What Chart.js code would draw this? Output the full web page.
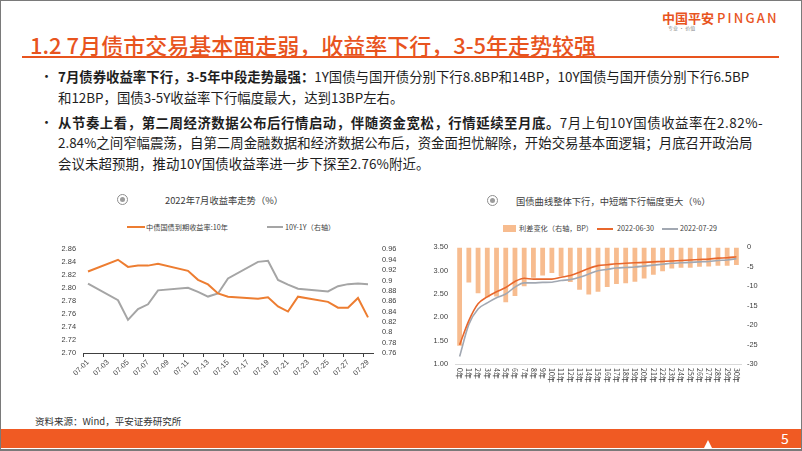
<!DOCTYPE html>
<html>
<head>
<meta charset="utf-8">
<script src="https://cdn.jsdelivr.net/npm/chart.js@4.4.1/dist/chart.umd.min.js"></script>
<style>
  body { margin: 0; background: #fff; }
  #slide { position: relative; width: 802px; height: 451px; overflow: hidden; background: #fff;
           font-family: "Noto Sans CJK SC", "Noto Sans", sans-serif; color: #222; }
  .abs { position: absolute; white-space: nowrap; }
  .frame { position: absolute; left: 0; top: 0; right: 0; bottom: 0; border: 1px solid #7a7a7a; border-bottom-width: 2px; pointer-events: none; }
  .ln { position: absolute; left: 58px; font-size: 13.4px; line-height: 18px; white-space: nowrap; color: #1e1e1e; }
  .dot { position: absolute; left: 40px; font-size: 13px; line-height: 18px; }
  .ttl { font-size: 9.3px; color: #3c3c3c; line-height: 12px; }
  .ring { position: absolute; width: 9px; height: 9px; border: 1.5px solid #8e8e8e; border-radius: 50%; }
  .ring::after { content: ""; position: absolute; left: 2px; top: 2px; width: 5px; height: 5px; border-radius: 50%; background: #9c9c9c; }
  .lg { font-size: 7.2px; color: #404040; line-height: 10px; }
  canvas { position: absolute; }
</style>
</head>
<body>
<div id="slide">
  <!-- ヘッダー -->
  <div class="abs" style="left:30px;top:32px;font-size:22px;line-height:25px;color:#E8541E;font-weight:500;">1.2 7月债市交易基本面走弱，收益率下行，3-5年走势较强</div>
  <div class="abs" style="left:22px;top:56px;width:757px;height:2px;background:#E8541E;"></div>
  <div class="abs" style="left:662px;top:10px;font-size:13px;line-height:16px;color:#E8541E;font-weight:700;">中国平安 <span style="font-weight:500;letter-spacing:2.2px;">PINGAN</span></div>
  <div class="abs" style="left:668px;top:25px;font-size:5px;line-height:6px;color:#888;">专业 · 价值</div>

  <!-- 本文 -->
  <div class="dot" style="top:67px;">•</div>
  <div class="ln" style="top:67px;"><b>7月债券收益率下行，3-5年中段走势最强：</b>1Y国债与国开债分别下行8.8BP和14BP，10Y国债与国开债分别下行6.5BP</div>
  <div class="ln" style="top:88px;">和12BP，国债3-5Y收益率下行幅度最大，达到13BP左右。</div>
  <div class="dot" style="top:113px;">•</div>
  <div class="ln" style="top:113px;letter-spacing:0.55px;"><b>从节奏上看，第二周经济数据公布后行情启动，伴随资金宽松，行情延续至月底。</b>7月上旬10Y国债收益率在2.82%-</div>
  <div class="ln" style="top:133px;">2.84%之间窄幅震荡，自第二周金融数据和经济数据公布后，资金面担忧解除，开始交易基本面逻辑；月底召开政治局</div>
  <div class="ln" style="top:154px;letter-spacing:0.1px;">会议未超预期，推动10Y国债收益率进一步下探至2.76%附近。</div>

  <!-- 左チャート タイトル・凡例 -->
  <div class="ring" style="left:117px;top:194px;"></div>
  <div class="abs ttl" style="left:165px;top:194px;">2022年7月收益率走势（%）</div>
  <div class="abs" style="left:127px;top:226px;width:18px;height:2px;background:#ED7D31;"></div>
  <div class="abs lg" style="left:146px;top:222px;">中债国债到期收益率:10年</div>
  <div class="abs" style="left:267px;top:226px;width:16px;height:2px;background:#A5A5A5;"></div>
  <div class="abs lg" style="left:285px;top:222px;">10Y-1Y（右轴）</div>

  <!-- 右チャート タイトル・凡例 -->
  <div class="ring" style="left:487px;top:195px;"></div>
  <div class="abs ttl" style="left:516px;top:195px;">国债曲线整体下行，中短端下行幅度更大（%）</div>
  <div class="abs" style="left:503px;top:225px;width:13px;height:7px;background:#F7BC8F;"></div>
  <div class="abs lg" style="left:519px;top:223px;">利差变化（右轴，BP）</div>
  <div class="abs" style="left:597px;top:228px;width:16px;height:1.5px;background:#E8672C;"></div>
  <div class="abs lg" style="left:617px;top:223px;">2022-06-30</div>
  <div class="abs" style="left:662px;top:228px;width:16px;height:1.5px;background:#A2A8B2;"></div>
  <div class="abs lg" style="left:680px;top:223px;">2022-07-29</div>

  <canvas id="leftChart" width="375" height="150" style="left:40px;top:236px;"></canvas>
  <canvas id="rightChart" width="388" height="152" style="left:412px;top:236px;"></canvas>

  <!-- フッター -->
  <div class="abs" style="left:35px;top:415px;font-size:9.5px;line-height:13px;color:#333;">资料来源：Wind，平安证券研究所</div>
  <div class="abs" style="left:0;top:429px;width:802px;height:19px;background:#F05A23;"></div>
  <div class="abs" style="left:704px;top:440px;width:0;height:0;border-left:4px solid transparent;border-right:4px solid transparent;border-bottom:8px solid #fff;"></div>
  <div class="abs" style="left:781px;top:429px;font-size:14px;line-height:19px;color:#fff;">5</div>
  <div class="frame"></div>
</div>

<script>
// -----------------------------------------------------------------
//  左：2022年7月 10Y 収益率 / 10Y-1Y（右軸）
// -----------------------------------------------------------------
const dayLabels = [
  "07-01", "07-02", "07-03", "07-04", "07-05", "07-06", "07-07", "07-08", "07-09", "07-10",
  "07-11", "07-12", "07-13", "07-14", "07-15", "07-16", "07-17", "07-18", "07-19", "07-20",
  "07-21", "07-22", "07-23", "07-24", "07-25", "07-26", "07-27", "07-28", "07-29"
];
// 週末は null（線はそのまま繋ぐ）
const yield10y = [
  2.826, null, null, 2.844, 2.833, 2.835, 2.835, 2.838, null, null,
  2.827, 2.813, 2.806, 2.792, 2.787, null, null, 2.784, 2.786, 2.772,
  2.764, 2.787, null, null, 2.779, 2.770, 2.770, 2.785, 2.755
];
const spread10y1y = [
  0.894, null, null, 0.862, 0.824, 0.845, 0.854, 0.881, null, null,
  0.886, 0.878, 0.869, 0.875, 0.904, null, null, 0.936, 0.938, 0.901,
  0.892, 0.884, null, null, 0.879, 0.889, 0.893, 0.894, 0.893
];

// -----------------------------------------------------------------
//  右：国債イールドカーブ 2022-06-30 / 2022-07-29、利差変化（BP）
// -----------------------------------------------------------------
const tenors = [
  "0年", "1年", "2年", "3年", "4年", "5年", "6年", "7年", "8年", "9年", "10年",
  "11年", "12年", "13年", "14年", "15年", "16年", "17年", "18年", "19年", "20年",
  "21年", "22年", "23年", "24年", "25年", "26年", "27年", "28年", "29年", "30年"
];
const curve0630 = [
  1.41, 1.93, 2.29, 2.44, 2.55, 2.64, 2.77, 2.84, 2.82, 2.82, 2.82,
  2.86, 2.90, 2.97, 3.05, 3.11, 3.13, 3.15, 3.16, 3.17, 3.18,
  3.19, 3.20, 3.21, 3.22, 3.23, 3.24, 3.25, 3.27, 3.28, 3.30
];
const curve0729 = [
  1.16, 1.85, 2.18, 2.31, 2.42, 2.50, 2.65, 2.74, 2.74, 2.75, 2.755,
  2.79, 2.81, 2.86, 2.93, 3.00, 3.03, 3.06, 3.07, 3.08, 3.10,
  3.12, 3.14, 3.16, 3.17, 3.18, 3.19, 3.20, 3.22, 3.23, 3.26
];
const spreadChange = [
  -25.3, -9.0, -11.8, -12.8, -12.6, -14.1, -12.5, -10.0, -7.8, -7.2, -6.6,
  -7.4, -8.9, -10.9, -12.1, -11.4, -10.2, -9.4, -9.2, -8.8, -8.0,
  -7.0, -6.1, -5.4, -5.2, -5.2, -5.0, -4.9, -4.7, -4.7, -4.5
];

const AXIS_FONT = { family: '"Liberation Sans", Arial, sans-serif', size: 7.4 };
const AXIS_COLOR = "#404040";

Chart.defaults.animation = false;
Chart.defaults.responsive = false;
Chart.defaults.devicePixelRatio = 1;
Chart.defaults.plugins.legend.display = false;
Chart.defaults.plugins.tooltip.enabled = false;

// y 軸は目盛り線なし・ラベル全表示
const noGridY = { display: false, drawTicks: false };

// ----------------------- 左チャート -----------------------
new Chart(document.getElementById("leftChart"), {
  type: "line",
  data: {
    labels: dayLabels,
    datasets: [
      {
        label: "中债国债到期收益率:10年",
        data: yield10y,
        yAxisID: "y",
        borderColor: "#ED7D31",
        borderWidth: 2,
        pointRadius: 0,
        spanGaps: true,
        tension: 0,
      },
      {
        label: "10Y-1Y（右轴）",
        data: spread10y1y,
        yAxisID: "y1",
        borderColor: "#A5A5A5",
        borderWidth: 2,
        pointRadius: 0,
        spanGaps: true,
        tension: 0,
      },
    ],
  },
  options: {
    layout: { padding: { top: 6, left: 0, right: 0, bottom: 0 } },
    scales: {
      x: {
        offset: true,
        grid: {
          drawOnChartArea: false,
          offset: true,
          tickLength: 4,
          color: ctx => (ctx.index % 2 === 0 ? "#404040" : "rgba(0,0,0,0)"),
        },
        border: { color: "#404040", width: 1 },
        ticks: {
          autoSkip: false,
          minRotation: 45,
          maxRotation: 45,
          padding: 1,
          font: AXIS_FONT,
          color: AXIS_COLOR,
          callback(v, i) { return i % 2 === 0 ? this.getLabelForValue(v) : ""; },
        },
        afterFit(s) { s.height = 33; },
      },
      y: {
        position: "left",
        min: 2.70,
        max: 2.86,
        grid: noGridY,
        border: { display: false },
        ticks: { stepSize: 0.02, autoSkip: false, padding: 7, font: AXIS_FONT, color: AXIS_COLOR,
                 callback: v => v.toFixed(2) },
        afterFit(s) { s.width = 43; },
      },
      y1: {
        position: "right",
        min: 0.76,
        max: 0.96,
        grid: noGridY,
        border: { display: false },
        ticks: { stepSize: 0.02, autoSkip: false, padding: 9, font: AXIS_FONT, color: AXIS_COLOR,
                 callback: v => String(+v.toFixed(2)) },
        afterFit(s) { s.width = 42; },
      },
    },
  },
});

// 右チャートの x ラベルは縦書き（時計回り 90°）で描く
const verticalTenorLabels = {
  id: "verticalTenorLabels",
  afterDraw(chart) {
    const xs = chart.scales.x;
    const ctx = chart.ctx;
    ctx.save();
    ctx.font = '7px "Noto Sans CJK SC", sans-serif';
    ctx.fillStyle = AXIS_COLOR;
    ctx.textAlign = "left";
    ctx.textBaseline = "middle";
    tenors.forEach((t, i) => {
      ctx.save();
      ctx.translate(xs.getPixelForTick(i), xs.top + 4);
      ctx.rotate(Math.PI / 2);
      ctx.fillText(t, 0, 0);
      ctx.restore();
    });
    ctx.restore();
  },
};

// ----------------------- 右チャート -----------------------
new Chart(document.getElementById("rightChart"), {
  type: "bar",
  data: {
    labels: tenors,
    datasets: [
      {
        type: "line",
        label: "2022-06-30",
        data: curve0630,
        yAxisID: "y",
        borderColor: "#E8672C",
        borderWidth: 1.6,
        pointRadius: 0,
        cubicInterpolationMode: "monotone",
        order: 0,
      },
      {
        type: "line",
        label: "2022-07-29",
        data: curve0729,
        yAxisID: "y",
        borderColor: "#A2A8B2",
        borderWidth: 1.6,
        pointRadius: 0,
        cubicInterpolationMode: "monotone",
        order: 1,
      },
      {
        type: "bar",
        label: "利差变化（右轴，BP）",
        data: spreadChange,
        yAxisID: "y1",
        backgroundColor: "#F7BC8F",
        barPercentage: 0.52,
        categoryPercentage: 1,
        order: 2,
      },
    ],
  },
  options: {
    layout: { padding: { top: 6, left: 0, right: 0, bottom: 0 } },
    scales: {
      x: {
        grid: { display: false },
        border: { color: "#D9D9D9", width: 1 },
        ticks: { display: false },
        afterFit(s) { s.height = 24; },
      },
      y: {
        position: "left",
        min: 1,
        max: 3.5,
        grid: noGridY,
        border: { display: false },
        ticks: { stepSize: 0.5, autoSkip: false, padding: 7, font: AXIS_FONT, color: AXIS_COLOR,
                 callback: v => v.toFixed(2) },
        afterFit(s) { s.width = 43; },
      },
      y1: {
        position: "right",
        min: -30,
        max: 0,
        grid: noGridY,
        border: { display: false },
        ticks: { stepSize: 5, autoSkip: false, padding: 6, font: AXIS_FONT, color: AXIS_COLOR },
        afterFit(s) { s.width = 59; },
      },
    },
  },
  plugins: [verticalTenorLabels],
});
</script>
</body>
</html>
